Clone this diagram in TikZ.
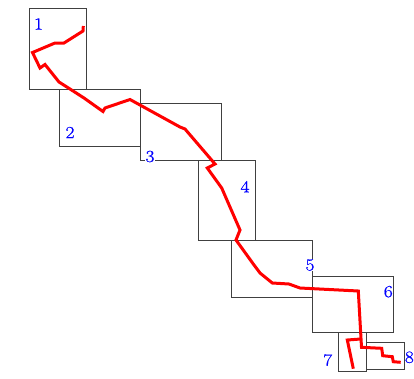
\documentclass[tikz,border=0pt]{standalone}
\usepackage{fontspec}
\newfontfamily\numfont[FakeBold=0.8,FakeStretch=1.15]{Latin Modern Roman}
\tikzset{
  cellbox/.style={draw=black!75,line width=0.85pt,rectangle,inner sep=0pt,outer sep=0pt},
  numlabel/.style={text=blue,fill=white,inner sep=0.6pt,font=\numfont\fontsize{17}{18}\selectfont},
  route/.style={draw=red,line width=3pt,line join=miter,line cap=butt}
}
\begin{document}
\begin{tikzpicture}[x=1pt,y=-1pt]
\useasboundingbox (0,0) rectangle (414,378);
\node[cellbox,minimum width=56.5pt,minimum height=81pt] (b1) at (57.75,48.5) {};
\node[cellbox,minimum width=81pt,minimum height=57pt] (b2) at (100,117.5) {};
\node[cellbox,minimum width=80.5pt,minimum height=57pt] (b3) at (180.75,131.5) {};
\node[cellbox,minimum width=57pt,minimum height=80.7pt] (b4) at (227.2,200.35) {};
\node[cellbox,minimum width=80.6pt,minimum height=57pt] (b5) at (272,269.2) {};
\node[cellbox,minimum width=81pt,minimum height=56.7pt] (b6) at (352.8,304.35) {};
\node[cellbox,minimum width=27.3pt,minimum height=38.6pt] (b7) at (352.35,352) {};
\node[cellbox,minimum width=38.7pt,minimum height=27pt] (b8) at (385.35,355.8) {};
\node[numlabel] (n1) at (38.5,24) {1};
\node[numlabel] (n2) at (70,132.5) {2};
\node[numlabel] (n3) at (150,156.5) {3};
\node[numlabel] (n4) at (245,186.7) {4};
\node[numlabel] (n5) at (310,265) {5};
\node[numlabel] (n6) at (388.3,291.7) {6};
\node[numlabel] (n7) at (327.7,360) {7};
\node[numlabel,inner sep=0pt] (n8) at (409.4,357.3) {8};
\draw[route] (83.3,26) -- (83,31) -- (64,43) -- (55,43) -- (32.5,52.5) -- (40,68) -- (45,64.5)
  -- (59,82) -- (70,89) -- (84,98) -- (103,111.5) -- (105,108) -- (130,99.5) -- (140,105)
  -- (180,127) -- (185,129) -- (215,164) -- (207.3,168) -- (221.7,188) -- (240,230) -- (236,240)
  -- (253.3,264) -- (260,273) -- (272.3,283) -- (289,284) -- (300,288) -- (358.3,291)
  -- (361.5,347.3) -- (381.7,348.3) -- (382.7,355.7) -- (392.3,356.7) -- (393.3,361.7) -- (400.7,362.3);
\draw[route] (360.5,339) -- (347.3,340) -- (353.3,368.7);
\end{tikzpicture}
\end{document}
